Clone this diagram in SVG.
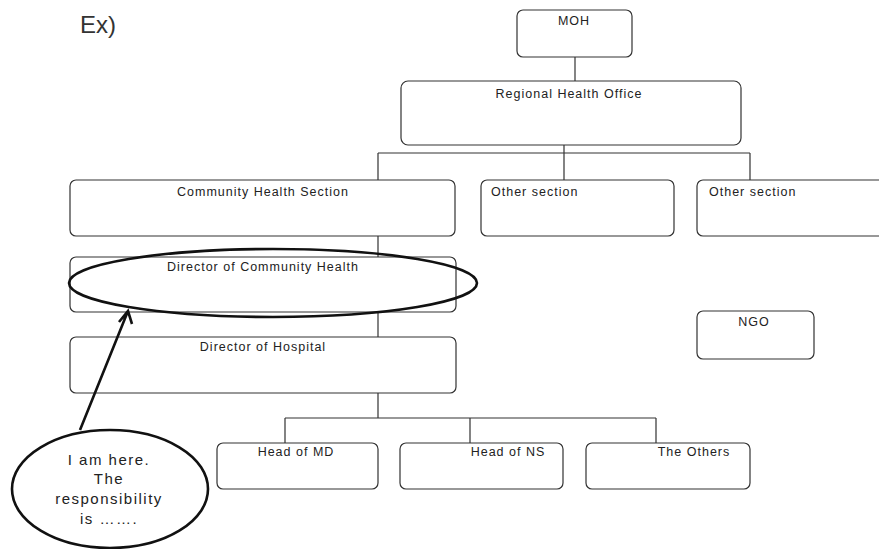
<svg xmlns="http://www.w3.org/2000/svg" width="879" height="549" viewBox="0 0 879 549">
<style>
.box{fill:#fff;stroke:#333;stroke-width:1.2}
.lbl{font-family:"Liberation Sans",Arial,sans-serif;font-size:12.5px;letter-spacing:1px;fill:#222}
.con{stroke:#333;stroke-width:1.2;fill:none}
.thick{stroke:#111;stroke-width:2.6;fill:none}
.call{font-family:"Liberation Sans",Arial,sans-serif;font-size:15px;letter-spacing:1.5px;fill:#222;text-anchor:middle}
</style>
<rect width="879" height="549" fill="#fff"/>
<text x="80" y="33" font-family="Liberation Sans,Arial,sans-serif" font-size="24" fill="#333">Ex)</text>
<g id="connectors">
<path class="con" d="M575 57V81"/>
<path class="con" d="M564 145V153M378 153H750M378 153V180M564 153V180M750 153V180"/>
<path class="con" d="M378 236V257M378 312V337M378 393V418M285 418H656M285 418V443M470 418V443M656 418V443"/>
</g>
<g id="moh"><rect class="box" x="517" y="10" width="115" height="47" rx="6"/><text class="lbl" x="574" y="25" text-anchor="middle">MOH</text></g>
<g id="rho"><rect class="box" x="401" y="81" width="340" height="64" rx="7"/><text class="lbl" x="569" y="98" text-anchor="middle">Regional Health Office</text></g>
<g id="chs"><rect class="box" x="70" y="180" width="385" height="56" rx="6"/><text class="lbl" x="263" y="196" text-anchor="middle">Community Health Section</text></g>
<g id="other1"><rect class="box" x="481" y="180" width="193" height="56" rx="6"/><text class="lbl" x="491" y="196">Other section</text></g>
<g id="other2"><rect class="box" x="697" y="180" width="190" height="56" rx="6"/><text class="lbl" x="709" y="196">Other section</text></g>
<g id="dch"><rect class="box" x="70" y="257" width="386" height="55" rx="6"/><text class="lbl" x="263" y="271" text-anchor="middle">Director of Community Health</text></g>
<g id="doh"><rect class="box" x="70" y="337" width="386" height="56" rx="6"/><text class="lbl" x="263" y="351" text-anchor="middle">Director of Hospital</text></g>
<g id="ngo"><rect class="box" x="697" y="311" width="117" height="48" rx="6"/><text class="lbl" x="754" y="326" text-anchor="middle">NGO</text></g>
<g id="md"><rect class="box" x="217" y="443" width="161" height="46" rx="6"/><text class="lbl" x="296" y="456" text-anchor="middle">Head of MD</text></g>
<g id="ns"><rect class="box" x="400" y="443" width="163" height="46" rx="6"/><text class="lbl" x="508" y="456" text-anchor="middle">Head of NS</text></g>
<g id="others"><rect class="box" x="586" y="443" width="164" height="46" rx="6"/><text class="lbl" x="694" y="456" text-anchor="middle">The Others</text></g>
<g id="highlight"><ellipse class="thick" cx="273" cy="283" rx="204" ry="34"/></g>
<g id="arrow"><path class="thick" d="M80 430L128 311M119 322L128 311L132 324"/></g>
<g id="callout">
<ellipse class="thick" cx="110" cy="489" rx="98" ry="59"/>
<text class="call" x="109" y="465">I am here.</text>
<text class="call" x="109" y="484">The</text>
<text class="call" x="109" y="504">responsibility</text>
<text class="call" x="109" y="524">is ……<tspan>.</tspan></text>
</g>
</svg>
